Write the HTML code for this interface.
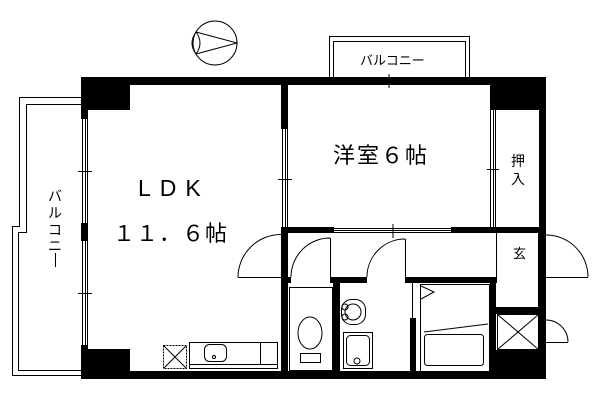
<!DOCTYPE html>
<html><head><meta charset="utf-8"><style>
html,body{margin:0;padding:0;background:#fff;width:600px;height:400px;overflow:hidden}
text{font-family:"Liberation Sans","Noto Sans CJK JP",sans-serif;fill:#000}
</style></head><body>
<svg width="600" height="400" viewBox="0 0 600 400" xmlns="http://www.w3.org/2000/svg">
<g fill="none" stroke="#000" stroke-width="1">
<circle cx="215" cy="43" r="22"/>
<path d="M196,32 L237,43 L196,54 M196,32 Q188,43 196,54 M196,32 Q204,43 196,54"/>
<path d="M329.5,77 V36.5 H469.5 V77 M333.5,77 V41.5 H465.5 V77"/>
<path d="M81,97.5 H19.5 V226.5 H12.5 V375.5 H81 M81,104.5 H26.5 V232.5 H18.5 V370.5 H81"/>
<path d="M82.5,110 V349 M85.5,110 V349 M87.5,110 V349 M78,171.5 H92 M78,293.5 H92"/>
<path d="M282.5,129 V228 M285.5,129 V228 M287.5,129 V228 M278,179.5 H292"/>
<path d="M490.5,110 V228 M493.5,110 V228 M495.5,110 V228 M487,169.5 H499"/>
<path d="M340,78.5 H438 M340,81.5 H438 M340,83.5 H438 M389,74 V88"/>
<path d="M334,228.5 H451 M334,230.5 H451 M334,232.5 H451 M393,224 V238"/>
<path d="M238,277.5 A43,43 0 0 1 281,234.5 M238,277.5 H281"/>
<path d="M291,277 A39,39 0 0 1 330,238 M330.5,238 V277"/>
<path d="M367,277 A38,38 0 0 1 405,239 M405.5,239 V277"/>
<path d="M546,235 A42,42 0 0 1 588,277 M546,277.5 H588"/>
<path d="M546,320 A22,22 0 0 1 568,342 M546,342.5 H568"/>
<path d="M496.5,233 V283 M538.5,233 V307"/>
<rect x="497.5" y="314.5" width="41" height="35"/>
<path d="M497.5,314.5 L538.5,349.5 M538.5,314.5 L497.5,349.5"/>
<rect x="289.5" y="287.5" width="43" height="83"/>
<ellipse cx="310" cy="333" rx="12" ry="16"/>
<rect x="300.5" y="353.5" width="20" height="9"/>
<rect x="341.5" y="299.5" width="24" height="25" rx="10"/>
<circle cx="353" cy="312" r="8"/>
<circle cx="345" cy="307" r="3"/><circle cx="345" cy="317" r="3"/>
<rect x="343.5" y="332.5" width="29" height="36"/>
<rect x="346.5" y="335.5" width="23" height="30" rx="4"/>
<circle cx="357" cy="361" r="3"/>
<path d="M412.5,283 V318"/>
<rect x="420.5" y="284.5" width="69" height="87"/>
<path d="M421,286 L434,292 L421,299"/>
<path d="M424,332 L488,324"/>
<rect x="424.5" y="334.5" width="59" height="31" rx="3"/>
<rect x="163.5" y="345.5" width="23" height="23" stroke-dasharray="2,1"/>
<path d="M164,346 L186,368 M186,346 L164,368"/>
<rect x="189.5" y="342.5" width="88" height="26"/>
<path d="M190,364.5 H277 M260.5,343 V364"/>
<rect x="204.5" y="344.5" width="22" height="17" rx="5"/>
<circle cx="214" cy="357" r="1.5"/>
<!-- vertical long-vowel mark -->
<path d="M55.5,253 V267"/>
</g>
<g fill="#000">
<rect x="81" y="77" width="465" height="8"/>
<rect x="81" y="77" width="49" height="33"/>
<rect x="81" y="77" width="7" height="42"/>
<rect x="81" y="223" width="7" height="18"/>
<rect x="81" y="345" width="7" height="34"/>
<rect x="81" y="349" width="49" height="30"/>
<rect x="81" y="371" width="465" height="8"/>
<rect x="539" y="77" width="7" height="302"/>
<rect x="490" y="77" width="56" height="33"/>
<rect x="281" y="85" width="7" height="44"/>
<rect x="281" y="227" width="53" height="6"/>
<rect x="451" y="227" width="95" height="6"/>
<rect x="281" y="277" width="10" height="6"/>
<rect x="330" y="277" width="37" height="6"/>
<rect x="405" y="277" width="91" height="6"/>
<rect x="281" y="227" width="7" height="152"/>
<rect x="333" y="277" width="7" height="102"/>
<rect x="410" y="318" width="6" height="60"/>
<rect x="496" y="307" width="50" height="7"/>
<rect x="490" y="350" width="56" height="29"/>
<rect x="490" y="283" width="6" height="67"/>
</g>
<text x="138" y="196" font-size="23" letter-spacing="9">LDK</text>
<text x="113" y="241" font-size="22" letter-spacing="1">１１．６帖</text>
<text x="333" y="163" font-size="22" letter-spacing="2">洋室６帖</text>
<text x="511" y="166" font-size="14">押</text>
<text x="511" y="184" font-size="14">入</text>
<text x="513" y="258" font-size="13">玄</text>
<text x="360" y="65" font-size="13">バルコニー</text>
<g font-size="14" text-anchor="middle">
<text x="55" y="201">バ</text><text x="55" y="218">ル</text><text x="55" y="235">コ</text><text x="55" y="251">ニ</text>
</g>
</svg>
</body></html>
